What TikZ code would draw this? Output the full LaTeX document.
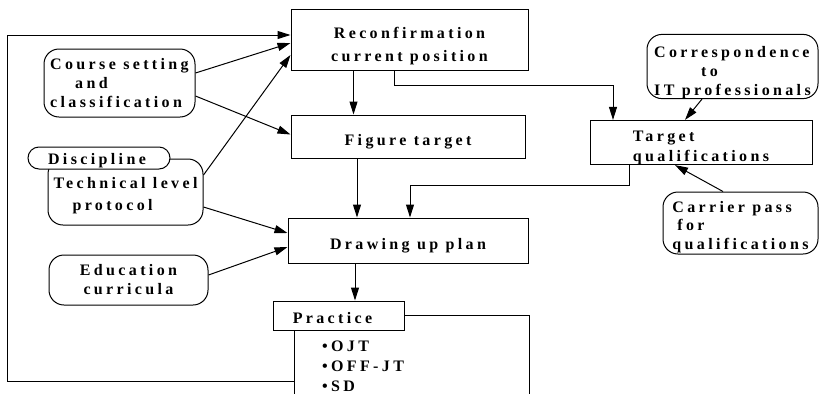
\documentclass[tikz,border=0pt]{standalone}
\usepackage{fontspec}
\setmainfont{Liberation Serif}
\newfontfamily\lsf[LetterSpace=21]{Liberation Serif}
\usetikzlibrary{arrows.meta}
\newcommand{\dn}[1]{\rule{0pt}{#1pt}}
\begin{document}
\begin{tikzpicture}[x=1pt,y=-1pt,
  every node/.style={font=\lsf\bfseries\fontsize{16}{19}\selectfont, inner sep=0pt},
  box/.style={draw, line width=1pt},
  rbox/.style={draw, line width=1pt, rounded corners=15pt},
  ln/.style={line width=1pt},
  arr/.style={line width=1pt, -{Triangle[length=13pt,width=8pt]}}]
\useasboundingbox (0,0) rectangle (819,394);
% boxes
\node[box, minimum width=237pt, minimum height=61pt, align=center, font=\lsf\bfseries\fontsize{16}{23}\selectfont] (recon) at (409.5,39.5) {\dn{24.8}Reconfirmation\\current position};
\node[box, minimum width=234pt, minimum height=43pt] (figure) at (408,136.5) {\dn{20.8}Figure target};
\node[box, minimum width=240pt, minimum height=45pt] (plan) at (408,240.5) {\dn{21.8}Drawing up plan};
\node[box, minimum width=131pt, minimum height=29pt] (practice) at (338.5,315.5) {\dn{16.8}Practice\hspace*{12pt}};
\node[box, minimum width=222pt, minimum height=39pt, align=left, font=\lsf\bfseries\fontsize{16}{20}\selectfont] (target) at (701,142.5) {\dn{20.8}Target\\qualifications};
\node[rbox, minimum width=151pt, minimum height=68pt, align=left] (course) at (119.5,83) {Course setting\\\hspace*{25pt}and\\classification};
\node[rbox, minimum width=155pt, minimum height=66pt, align=left, font=\lsf\bfseries\fontsize{16}{22}\selectfont] (tech) at (125.5,192) {\dn{18.8}Technical level\\\hspace*{19pt}protocol};
\node[draw, line width=1pt, rounded corners=11pt, fill=white, minimum width=142pt, minimum height=22pt] (disc) at (99,158) {\dn{16.8}Discipline\hspace*{4pt}};
\node[rbox, minimum width=159pt, minimum height=50pt, align=center] (edu) at (128.5,280) {Education\\curricula};
\node[rbox, minimum width=171pt, minimum height=63pt, align=left] (corr) at (732.5,66.5) {\dn{22.8}Correspondence\\\hspace*{47pt}to\\IT professionals};
\node[rbox, minimum width=155pt, minimum height=62pt, align=left, font=\lsf\bfseries\fontsize{16}{18.5}\selectfont] (carrier) at (740.5,223) {\dn{18.8}Carrier pass\\\hspace*{5pt}for\\qualifications};
\node[anchor=north west, align=left, font=\lsf\bfseries\fontsize{16}{20}\selectfont] (bullets) at (322,341) {\textbullet OJT\\\textbullet OFF-JT\\\textbullet SD};
% junction coordinates
\coordinate (j1) at (0,85);
\coordinate (j2) at (0,185);
\coordinate (lp1) at (294,381);
\coordinate (lp2) at (7,381);
\coordinate (lp3) at (7,35);
\coordinate (pbot) at (294,394);
\coordinate (rtop) at (529,0);
\coordinate (rbot) at (529,394);
% vertical arrows
\draw[arr] ([xshift=-56pt]recon.south) -- ([xshift=-56pt]recon.south |- figure.north);
\draw[arr] ([xshift=-51pt]figure.south) -- ([xshift=-51pt]figure.south |- plan.north);
\draw[arr] ([xshift=-53pt]plan.south) -- ([xshift=-53pt]plan.south |- practice.north);
% left inputs
\draw[arr] ([yshift=10pt]course.east) -- ([yshift=-3.5pt]recon.west);
\draw[arr] ([yshift=-13pt]course.east) -- ([yshift=2pt]figure.west);
\draw[arr] ([yshift=17pt]tech.east) -- ([yshift=-15.5pt]recon.west);
\draw[arr] ([yshift=-15pt]tech.east) -- ([yshift=7.5pt]plan.west);
\draw[arr] ([yshift=5pt]edu.east) -- ([yshift=-6.5pt]plan.west);
% right side
\draw[arr] ([xshift=-15.5pt]recon.south) -- ([xshift=-15.5pt]recon.south |- j1) -| ([xshift=-88pt]target.north);
\draw[arr] ([xshift=-72pt]target.south) -- ([xshift=-72pt]target.south |- j2) -| ([xshift=2pt]plan.north);
\draw[arr] ([xshift=-30.5pt]corr.south) -- ([xshift=-16pt]target.north);
\draw[arr] ([xshift=-17.5pt]carrier.north) -- ([xshift=-26pt]target.south);
% practice feedback
\draw[ln] (practice.south -| pbot) -- (pbot);
\draw[arr] (lp1) -- (lp2) -- (lp3) -- (lp3 -| recon.west);
\draw[ln] (practice.east) -- (practice.east -| rtop) -- (rbot);
\end{tikzpicture}
\end{document}
